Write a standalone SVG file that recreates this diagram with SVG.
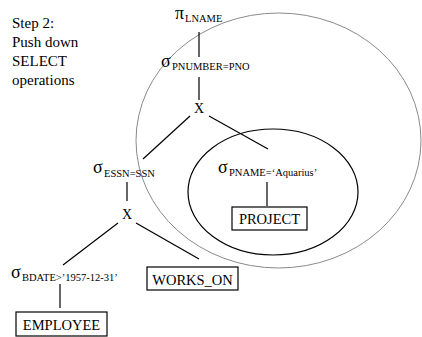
<svg xmlns="http://www.w3.org/2000/svg" width="422" height="337" viewBox="0 0 422 337">
  <style>
    text { font-family: "Times New Roman", "Liberation Serif", Tinos, "Nimbus Roman", "Noto Serif", "DejaVu Serif", FreeSerif, serif; fill: #000; }
    .caption { font-size: 15px; }
    .op { font-size: 18px; }
    .sub { font-size: 10.5px; }
    .box-label { font-size: 14.5px; text-anchor: middle; }
    .cross { font-size: 14px; text-anchor: middle; }
    .edge { stroke: #000; stroke-width: 1.2; fill: none; }
    .box { fill: #fff; stroke: #000; stroke-width: 1.2; }
    .group-outer { fill: none; stroke: #8a8a8a; stroke-width: 1; }
    .group-inner { fill: none; stroke: #000; stroke-width: 1.2; }
  </style>

  <rect width="422" height="337" fill="#fff"/>

  <!-- subtree groupings -->
  <ellipse class="group-outer" cx="278.5" cy="140.5" rx="142.5" ry="127.5"/>
  <ellipse class="group-inner" cx="273" cy="192" rx="85" ry="63"/>

  <!-- step caption -->
  <g id="caption">
    <text class="caption" x="12" y="28">Step 2:</text>
    <text class="caption" x="12" y="47">Push down</text>
    <text class="caption" x="12" y="66">SELECT</text>
    <text class="caption" x="12" y="85">operations</text>
  </g>

  <!-- tree edges -->
  <g id="connectors">
    <line class="edge" x1="199" y1="32" x2="199" y2="57"/>
    <line class="edge" x1="199" y1="77" x2="199" y2="100"/>
    <line class="edge" x1="190" y1="116" x2="143" y2="159"/>
    <line class="edge" x1="209" y1="116" x2="268" y2="149"/>
    <line class="edge" x1="127" y1="182" x2="127" y2="201"/>
    <line class="edge" x1="118" y1="223" x2="63" y2="265"/>
    <line class="edge" x1="136" y1="223" x2="199" y2="259"/>
    <line class="edge" x1="60" y1="284" x2="60" y2="308"/>
    <line class="edge" x1="267" y1="182" x2="267" y2="206"/>
  </g>

  <g id="project-lname">
    <text class="op" x="175" y="19">π</text>
    <text class="sub" x="185" y="22">LNAME</text>
  </g>

  <g id="select-pnumber">
    <text class="op" x="161" y="67">σ</text>
    <text class="sub" x="172" y="70">PNUMBER=PNO</text>
  </g>

  <g id="cross-top">
    <text class="cross" x="199" y="113">X</text>
  </g>

  <g id="select-essn">
    <text class="op" x="93" y="173">σ</text>
    <text class="sub" x="104" y="177">ESSN=SSN</text>
  </g>

  <g id="cross-bottom">
    <text class="cross" x="127" y="219">X</text>
  </g>

  <g id="select-bdate">
    <text class="op" x="11" y="278">σ</text>
    <text class="sub" x="22" y="281">BDATE&gt;’1957-12-31’</text>
  </g>

  <g id="employee">
    <rect class="box" x="16" y="312" width="91" height="24"/>
    <text class="box-label" x="61.5" y="330">EMPLOYEE</text>
  </g>

  <g id="works-on">
    <rect class="box" x="147" y="267" width="91" height="23"/>
    <text class="box-label" x="192.5" y="284.5">WORKS_ON</text>
  </g>

  <g id="select-pname">
    <text class="op" x="218" y="173">σ</text>
    <text class="sub" x="229" y="176">PNAME=‘Aquarius’</text>
  </g>

  <g id="project">
    <rect class="box" x="232" y="207" width="75" height="23"/>
    <text class="box-label" x="269.5" y="224">PROJECT</text>
  </g>
</svg>
